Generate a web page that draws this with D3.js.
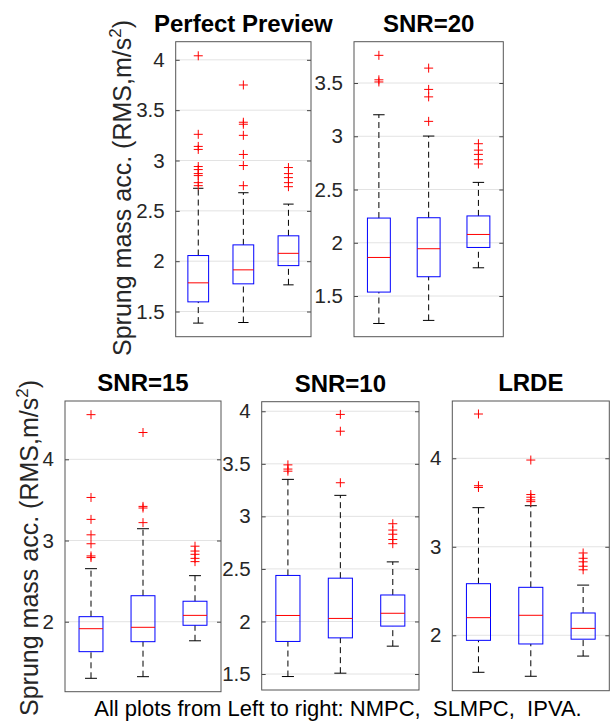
<!DOCTYPE html>
<html>
<head>
<meta charset="utf-8">
<script src="https://cdn.jsdelivr.net/npm/d3@7"></script>
<style>
body { margin: 0; background: #fff; }
svg text { font-family: "Liberation Sans", Arial, sans-serif; }
</style>
</head>
<body>
<svg id="chart" width="610" height="723"></svg>
<script>
var categories = ["NMPC", "SLMPC", "IPVA"];
var titles = ["Perfect Preview", "SNR=20", "SNR=15", "SNR=10", "LRDE"];

// [lower whisker, q1, median, q3, upper whisker] for NMPC, SLMPC, IPVA
var ipvaStats = [1.765, 1.956, 2.078, 2.252, 2.567];
var ipvaOutliers = [2.93, 2.87, 2.83, 2.78, 2.74];

var perfectStats = [[1.385, 1.596, 1.785, 2.056, 2.724], [1.391, 1.775, 1.914, 2.162, 2.68], ipvaStats];
var perfectOutliers = [[4.04, 3.26, 3.14, 3.11, 2.94, 2.91, 2.87, 2.85, 2.78, 2.75],
    [3.75, 3.38, 3.36, 3.25, 3.06, 2.95, 2.75], ipvaOutliers];

var snr20Stats = [[1.242, 1.537, 1.862, 2.232, 3.202], [1.271, 1.681, 1.944, 2.235, 3.002], ipvaStats];
var snr20Outliers = [[3.76, 3.53, 3.51], [3.64, 3.44, 3.37, 3.14], ipvaOutliers];

var snr15Stats = [[1.303, 1.631, 1.914, 2.062, 2.653], [1.323, 1.754, 1.931, 2.32, 3.145], ipvaStats];
var snr15Outliers = [[4.55, 3.53, 3.26, 3.07, 2.96, 2.81, 2.79], [4.33, 3.42, 3.40, 3.22], ipvaOutliers];

var snr10Stats = [[1.476, 1.81, 2.057, 2.438, 3.352], [1.508, 1.844, 2.029, 2.412, 3.2], ipvaStats];
var snr10Outliers = [[3.49, 3.45, 3.43], [3.97, 3.81, 3.32], ipvaOutliers];

var lrdeStats = [[1.582, 1.943, 2.199, 2.583, 3.442], [1.537, 1.902, 2.226, 2.542, 3.464], ipvaStats];
var lrdeOutliers = [[4.50, 3.69, 3.67], [3.98, 3.59, 3.56, 3.53, 3.51], ipvaOutliers];

var yDomains = [[1.25, 4.18], [1.118, 3.888], [1.138, 4.718], [1.348, 4.091], [1.374, 4.647]];
var yTicks = [[1.5, 2, 2.5, 3, 3.5, 4], [1.5, 2, 2.5, 3, 3.5], [2, 3, 4], [1.5, 2, 2.5, 3, 3.5, 4], [2, 3, 4]];

var footer = "All plots from Left to right: NMPC,\u00a0 SLMPC,\u00a0 IPVA.";

var svg = d3.select("#chart");

function build_box_panel(box, title, stats, outliers, domain, ticks)
{
    var x = d3.scaleLinear().domain([0.5, 3.5]).range([box.x0, box.x1]);
    var y = d3.scaleLinear().domain(domain).range([box.y1, box.y0]);
    var g = svg.append("g");
    var bw = (x(1) - x(0.5)) * 0.92;

    // grid
    g.selectAll(".grid").data(ticks).enter().append("line")
        .attr("x1", box.x0).attr("x2", box.x1)
        .attr("y1", function(d) { return y(d); }).attr("y2", function(d) { return y(d); })
        .attr("stroke", "#e3e3e3").attr("stroke-width", 1);

    var left = d3.axisLeft(y).tickValues(ticks).tickSize(-4).tickPadding(11)
        .tickFormat(function(d) { return String(d); });
    var ax = g.append("g").attr("transform", "translate(" + box.x0 + ",0)").call(left);
    ax.select(".domain").remove();
    ax.selectAll("line").attr("stroke", "#444");
    ax.selectAll("text").attr("font-size", 20.5).attr("fill", "#262626");

    var right = d3.axisRight(y).tickValues(ticks).tickSize(-4).tickFormat("");
    var ax2 = g.append("g").attr("transform", "translate(" + box.x1 + ",0)").call(right);
    ax2.select(".domain").remove();
    ax2.selectAll("line").attr("stroke", "#444");

    var groups = g.selectAll(".bx").data(stats).enter().append("g");

    // whiskers
    groups.append("line")
        .attr("x1", function(d, i) { return x(i + 1); }).attr("x2", function(d, i) { return x(i + 1); })
        .attr("y1", function(d) { return y(d[3]); }).attr("y2", function(d) { return y(d[4]); })
        .attr("stroke", "#000").attr("stroke-dasharray", "6,4");
    groups.append("line")
        .attr("x1", function(d, i) { return x(i + 1); }).attr("x2", function(d, i) { return x(i + 1); })
        .attr("y1", function(d) { return y(d[0]); }).attr("y2", function(d) { return y(d[1]); })
        .attr("stroke", "#000").attr("stroke-dasharray", "6,4");
    [0, 4].forEach(function(k) {
        groups.append("line")
            .attr("x1", function(d, i) { return x(i + 1) - bw / 4; })
            .attr("x2", function(d, i) { return x(i + 1) + bw / 4; })
            .attr("y1", function(d) { return y(d[k]); }).attr("y2", function(d) { return y(d[k]); })
            .attr("stroke", "#000");
    });

    groups.append("rect")
        .attr("x", function(d, i) { return x(i + 1) - bw / 2; })
        .attr("width", bw)
        .attr("y", function(d) { return y(d[3]); })
        .attr("height", function(d) { return y(d[1]) - y(d[3]); })
        .attr("fill", "none").attr("stroke", "#0000ff");

    groups.append("line")
        .attr("x1", function(d, i) { return x(i + 1) - bw / 2; })
        .attr("x2", function(d, i) { return x(i + 1) + bw / 2; })
        .attr("y1", function(d) { return y(d[2]); }).attr("y2", function(d) { return y(d[2]); })
        .attr("stroke", "#ff0000");

    // outliers as +
    outliers.forEach(function(list, i) {
        g.selectAll(".o" + i).data(list).enter().append("path")
            .attr("transform", function(d) { return "translate(" + x(i + 1) + "," + y(d) + ")"; })
            .attr("d", "M-4.5,0H4.5M0,-4.5V4.5")
            .attr("stroke", "#ff0000").attr("stroke-width", 1);
    });

    g.append("rect")
        .attr("x", box.x0).attr("y", box.y0)
        .attr("width", box.x1 - box.x0).attr("height", box.y1 - box.y0)
        .attr("fill", "none").attr("stroke", "#555").attr("stroke-width", 1);

    g.append("text")
        .attr("x", (box.x0 + box.x1) / 2).attr("y", box.y0 - 10)
        .attr("text-anchor", "middle")
        .attr("font-size", 24).attr("font-weight", "bold")
        .text(title);
}

function build_ylabel(cx, cy)
{
    var t = svg.append("text")
        .attr("transform", "translate(" + cx + "," + cy + ") rotate(-90)")
        .attr("text-anchor", "middle")
        .attr("font-size", 25).attr("fill", "#262626");
    t.append("tspan").text("Sprung mass acc. (RMS,m/s");
    t.append("tspan").attr("font-size", 17).attr("dy", -10).text("2");
    t.append("tspan").attr("dy", 10).text(")");
}

var boxes = [
    {x0: 175.7, x1: 311, y0: 41.7, y1: 336.7},
    {x0: 354, x1: 503.3, y0: 41.7, y1: 336.7},
    {x0: 65, x1: 221, y0: 401, y1: 691.7},
    {x0: 261.7, x1: 419, y0: 401.7, y1: 690},
    {x0: 452.3, x1: 609.3, y0: 401, y1: 690.7}
];
var allStats = [perfectStats, snr20Stats, snr15Stats, snr10Stats, lrdeStats];
var allOutliers = [perfectOutliers, snr20Outliers, snr15Outliers, snr10Outliers, lrdeOutliers];

boxes.forEach(function(b, i) {
    build_box_panel(b, titles[i], allStats[i], allOutliers[i], yDomains[i], yTicks[i]);
});

build_ylabel(131, 188);
build_ylabel(38, 548);

svg.append("text")
    .attr("x", 338).attr("y", 716)
    .attr("text-anchor", "middle")
    .attr("font-size", 22).attr("fill", "#000")
    .text(footer);
</script>
</body>
</html>
